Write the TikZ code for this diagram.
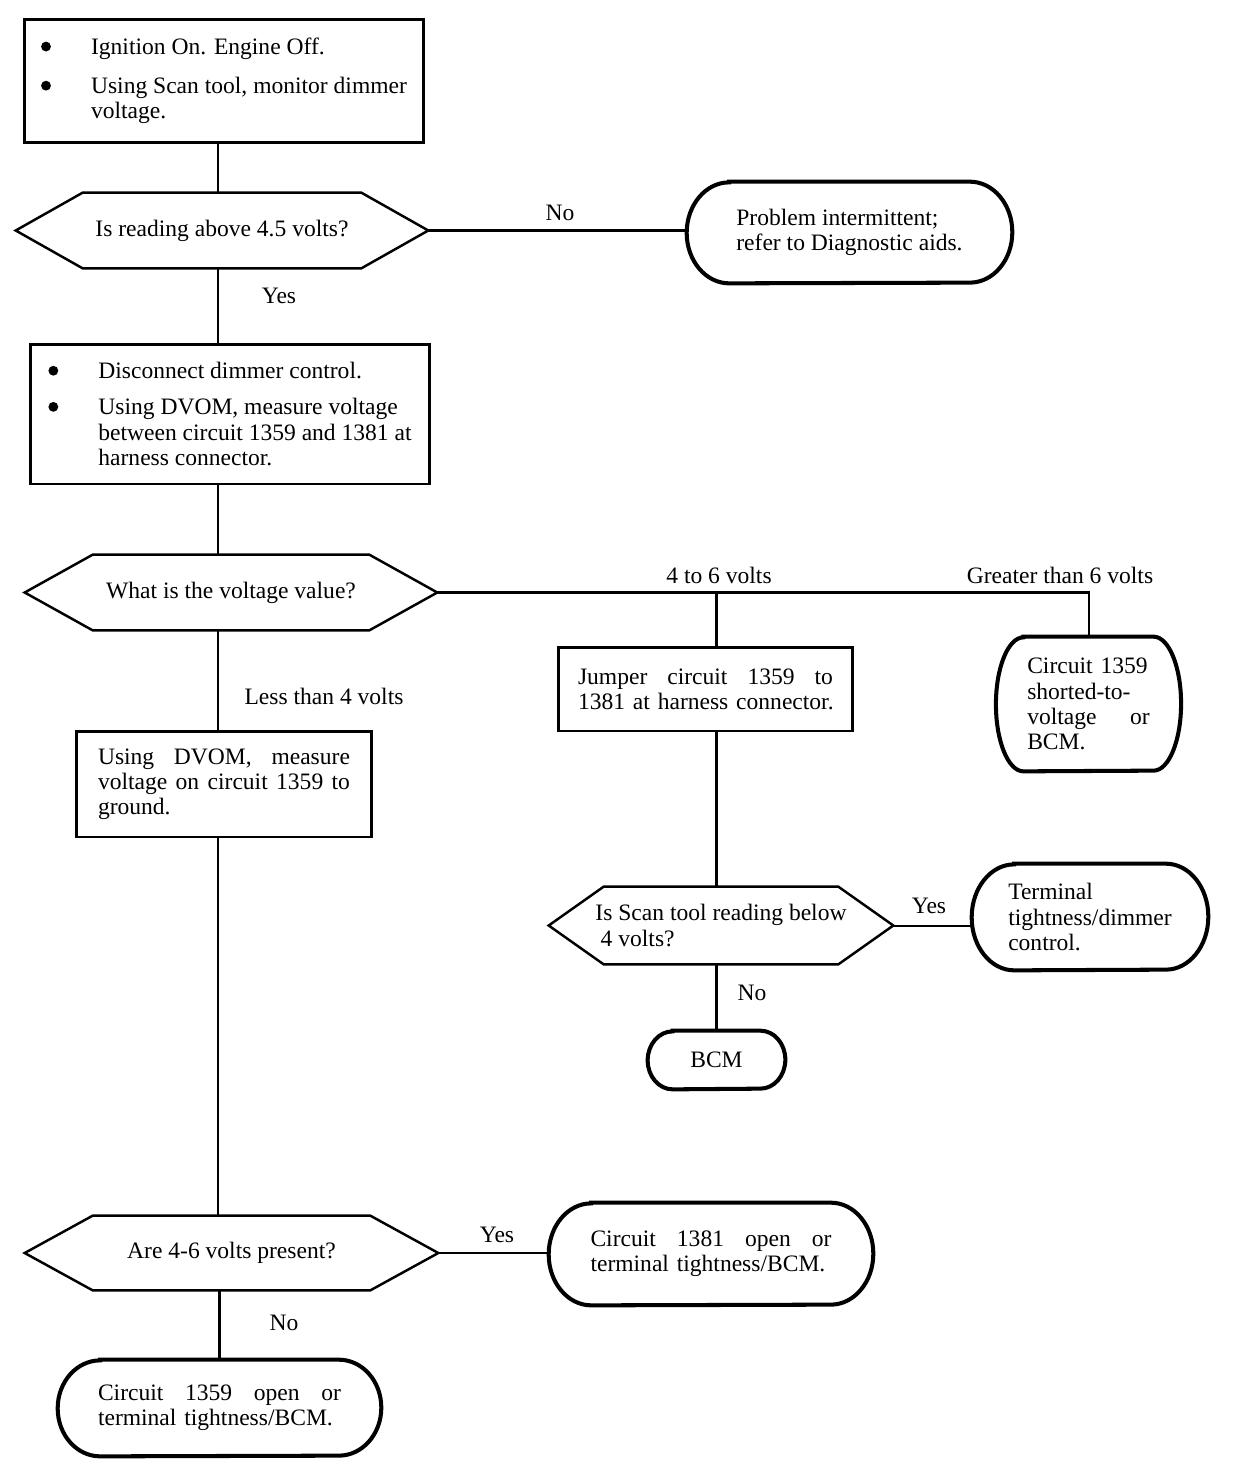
\documentclass[tikz,border=0pt]{standalone}
\usepackage{fontspec}
\setmainfont{Liberation Serif}
\newcommand{\bul}{\makebox[1.0cm][l]{\tikz[baseline=-4.6pt]\fill (0,0) circle (2.8pt);}}

\begin{document}
\begin{tikzpicture}[x=0.02cm,y=-0.02cm,
		every node/.style={font=\fontsize{13.4}{14.3}\selectfont},
		stepbox/.style={draw,line width=1.7pt,inner ysep=0pt},
		endbox/.style={inner ysep=0pt},
		endline/.style={line width=2.3pt},
		askbox/.style={inner sep=0pt},
		hexline/.style={line width=1.4pt,line join=miter},
		link/.style={line width=1.15pt},
		lab/.style={inner sep=0pt}]
	\useasboundingbox (0,0) rectangle (1248,1474);
	\coordinate (trunk) at (218,0);

	\node[stepbox,align=left,minimum width=8cm,minimum height=2.48cm] (mon) at (224,81)
		{\bul Ignition On. Engine Off.\\[0.28cm]\bul Using Scan tool, monitor dimmer\\\hspace*{1.0cm}voltage.};
	\node[askbox,minimum width=8.24cm,minimum height=1.5cm] (q45) at (222,230.5) {Is reading above 4.5 volts?};
	\node[endbox,align=left,minimum width=6.5cm,minimum height=2.02cm] (intermit) at (849.5,232.5)
		{Problem intermittent;\\refer to Diagnostic aids.};
	\node[stepbox,align=left,minimum width=8cm,minimum height=2.8cm] (disc) at (230,414)
		{\bul Disconnect dimmer control.\\[0.22cm]\bul Using DVOM, measure voltage\\\hspace*{1.0cm}between circuit 1359 and 1381 at\\\hspace*{1.0cm}harness connector.};
	\node[askbox,minimum width=8.24cm,minimum height=1.5cm] (qval) at (231,592.5) {What is the voltage value?};
	\node[stepbox,align=left,text width=5.1cm,inner xsep=0.4cm,minimum height=1.68cm] (jumper) at (705.5,689)
		{Jumper\hfill circuit\hfill 1359\hfill to\\\mbox{1381 at harness connector.}};
	\node[endbox,align=left,text width=2.45cm,inner xsep=0.62cm,minimum height=2.68cm] (short) at (1088.5,704)
		{Circuit 1359\\shorted-to-\\voltage\hfill or\\BCM.};
	\node[stepbox,align=left,text width=5.04cm,inner xsep=0.44cm,minimum height=2.12cm] (dvom) at (224,784)
		{Using\hfill DVOM,\hfill measure\\voltage\hfill on\hfill circuit\hfill 1359\hfill to\\ground.};
	\node[askbox,align=left,minimum width=6.88cm,minimum height=1.54cm] (qscan) at (721,925.5)
		{Is Scan tool reading below\\\hspace*{3pt}4 volts?};
	\node[endbox,align=left,minimum width=4.72cm,minimum height=2.12cm] (tight) at (1090,917)
		{Terminal\\tightness/dimmer\\control.};
	\node[endbox,minimum width=2.74cm,minimum height=1.16cm] (bcm) at (716.5,1060) {BCM};
	\node[askbox,minimum width=8.26cm,minimum height=1.48cm] (qpres) at (231.5,1253) {Are 4-6 volts present?};
	\node[endbox,align=left,text width=4.82cm,inner xsep=0.83cm,minimum height=2.04cm] (open81) at (711,1254)
		{Circuit\hfill 1381\hfill open\hfill or\\\mbox{terminal tightness/BCM.}};
	\node[endbox,align=left,text width=4.86cm,inner xsep=0.8cm,minimum height=1.92cm] (open59) at (219.5,1408)
		{Circuit\hfill 1359\hfill open\hfill or\\\mbox{terminal tightness/BCM.}};

	\foreach \q/\c in {q45/1.34cm,qval/1.36cm,qscan/1.1cm,qpres/1.36cm}
		\draw[hexline] (\q.west) -- ([xshift=\c]\q.north west) -- ([xshift=-\c]\q.north east) -- (\q.east)
			-- ([xshift=-\c]\q.south east) -- ([xshift=\c]\q.south west) -- cycle;
	\foreach \t/\rx/\ry in {intermit/0.85cm/1.01cm,short/0.55cm/1.34cm,tight/0.85cm/1.06cm,bcm/0.5cm/0.58cm,open81/0.85cm/1.02cm,open59/0.85cm/0.96cm}
		\draw[endline] ([xshift=\rx]\t.north west) -- ([xshift=-\rx]\t.north east)
			arc[start angle=90,end angle=-90,x radius=\rx,y radius=\ry] -- ([xshift=\rx]\t.south west)
			arc[start angle=270,end angle=90,x radius=\rx,y radius=\ry] -- cycle;

	\draw[link] (mon.south -| trunk) -- (q45.north -| trunk);
	\draw[link] (q45.east) -- (q45.east -| intermit.west);
	\draw[link] (q45.south -| trunk) -- (disc.north -| trunk);
	\draw[link] (disc.south -| trunk) -- (qval.north -| trunk);
	\draw[link] (qval.east) -- (qval.east -| short.north) -- (short.north);
	\draw[link] (qval.east -| bcm) -- (jumper.north -| bcm);
	\draw[link] (jumper.south -| bcm) -- (qscan.north -| bcm);
	\draw[link] (qscan.east) -- (qscan.east -| tight.west);
	\draw[link] (qscan.south -| bcm) -- (bcm.north);
	\draw[link] (qval.south -| trunk) -- (dvom.north -| trunk);
	\draw[link] (dvom.south -| trunk) -- (qpres.north -| trunk);
	\draw[link] (qpres.east) -- (qpres.east -| open81.west);
	\draw[link] (qpres.south -| open59) -- (open59.north);

	\node[lab] (lno1) at (560,213) {No};
	\node[lab] (lyes1) at (279,296) {Yes};
	\node[lab] (l46) at (719,575) {4 to 6 volts};
	\node[lab] (lgt6) at (1060,575) {Greater than 6 volts};
	\node[lab] (llt4) at (324,696) {Less than 4 volts};
	\node[lab] (lyes2) at (929,906) {Yes};
	\node[lab] (lno2) at (752,993) {No};
	\node[lab] (lyes3) at (497,1235) {Yes};
	\node[lab] (lno3) at (284,1323) {No};
\end{tikzpicture}
\end{document}
